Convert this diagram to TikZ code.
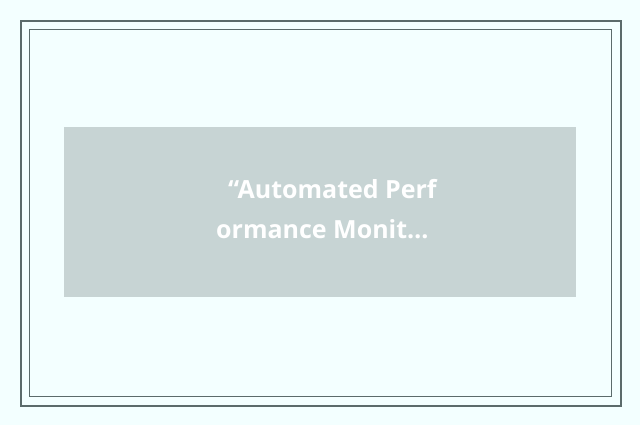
\documentclass[tikz,border=0pt]{standalone}
\usepackage{fontspec}
\setmainfont{Open Sans}
\definecolor{bg}{HTML}{F3FFFF}
\definecolor{frame}{HTML}{5B6B6B}
\definecolor{boxfill}{HTML}{C7D4D4}
\tikzset{
  outerframe/.style={draw=frame, line width=2pt},
  innerframe/.style={draw=frame, line width=1pt},
  label/.style={text=white, font=\fontsize{25}{30}\selectfont\bfseries, anchor=base west, inner sep=0pt}
}
\begin{document}
\begin{tikzpicture}[x=1pt,y=-1pt]
\fill[bg] (0,0) rectangle (640,425);
\useasboundingbox (0,0) rectangle (640,425);
\draw[outerframe] (21,21) rectangle (621,406);
\draw[innerframe] (29.5,29.5) rectangle (611.5,396.5);
\node[fill=boxfill, minimum width=512pt, minimum height=170pt, inner sep=0pt, anchor=north west] (box) at (64,127) {};
\node[label] (l1) at (228,198) {“Automated Perf};
\node[label] (l2) at (216,238) {ormance Monit…};
\end{tikzpicture}
\end{document}
